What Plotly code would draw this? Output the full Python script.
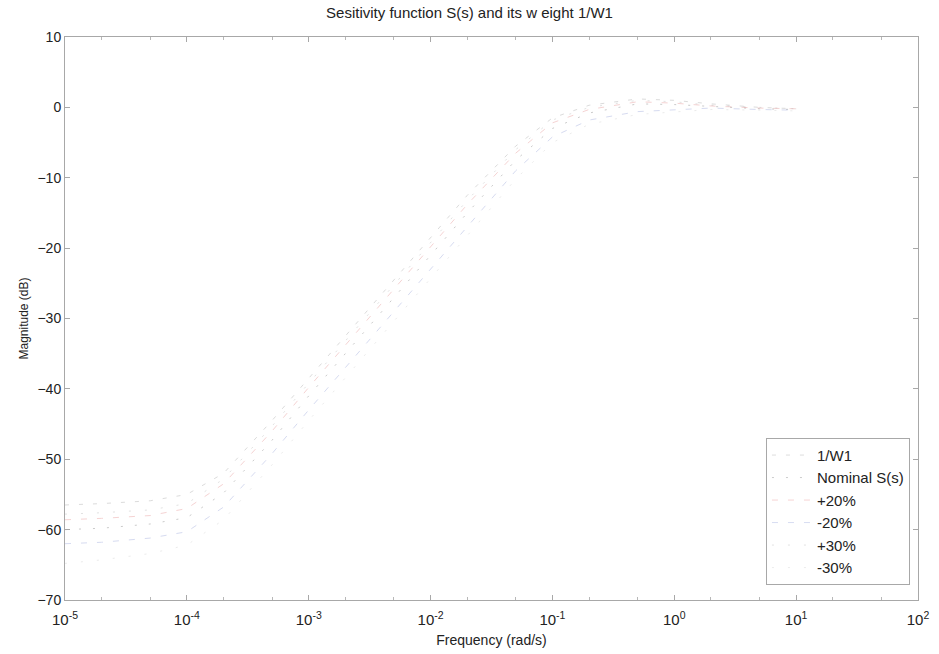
import plotly.graph_objects as go

freq = [1e-5, 2e-5, 5e-5, 1e-4, 2e-4, 5e-4, 1e-3, 2e-3, 5e-3, 1e-2,
        2e-2, 5e-2, 0.1, 0.2, 0.5, 1, 2, 5, 10]

inv_w1 = [-56.5, -56.3, -55.9, -55.0, -52.0, -44.5, -38.5, -32.5, -24.5, -18.5,
          -12.5, -5.5, -1.5, 0.3, 1.2, 1.0, 0.5, 0.0, -0.2]
nominal = [-60.0, -59.8, -59.2, -58.3, -54.8, -47.3, -41.0, -35.0, -27.0, -21.0,
           -15.0, -7.5, -3.0, -0.8, 0.5, 0.4, 0.1, -0.2, -0.3]
plus20 = [-58.6, -58.4, -58.0, -57.0, -53.5, -46.0, -39.8, -33.8, -25.8, -19.8,
          -13.8, -6.5, -2.2, -0.3, 0.8, 0.6, 0.2, -0.1, -0.2]
minus20 = [-62.0, -61.8, -61.2, -60.3, -56.8, -49.2, -43.0, -37.0, -29.0, -23.0,
           -17.0, -9.0, -4.2, -1.8, -0.6, -0.3, -0.1, -0.3, -0.4]
plus30 = [-57.8, -57.6, -57.2, -56.3, -52.8, -45.3, -39.2, -33.2, -25.2, -19.2,
          -13.2, -6.0, -1.8, 0.0, 1.0, 0.8, 0.3, 0.0, -0.2]
minus30 = [-64.8, -64.3, -63.4, -62.2, -58.6, -50.8, -44.5, -38.4, -30.3, -24.2,
           -18.2, -10.2, -5.0, -2.4, -1.0, -0.6, -0.3, -0.4, -0.5]

x_tickvals = [1e-5, 1e-4, 1e-3, 1e-2, 1e-1, 1e0, 1e1, 1e2]
x_ticktext = ["10<sup>-5</sup>", "10<sup>-4</sup>", "10<sup>-3</sup>", "10<sup>-2</sup>",
              "10<sup>-1</sup>", "10<sup>0</sup>", "10<sup>1</sup>", "10<sup>2</sup>"]

series = [
    ("1/W1", inv_w1, "#8c8c8c", "4px,10px"),
    ("Nominal S(s)", nominal, "#555555", "2px,12px"),
    ("+20%", plus20, "#e07070", "6px,10px"),
    ("-20%", minus20, "#7a8ad0", "6px,10px"),
    ("+30%", plus30, "#a0a0a0", "2px,14px"),
    ("-30%", minus30, "#c0c0c0", "2px,14px"),
]

fig = go.Figure()
for name, vals, col, dash in series:
    fig.add_trace(go.Scatter(x=freq, y=vals, mode="lines", name=name,
                             line=dict(color=col, width=1, dash=dash),
                             opacity=0.3))

font_fam = "Arial, Liberation Sans"
axis_common = dict(showline=True, linecolor="#a8a8a8", linewidth=1, mirror="ticks",
                   ticks="inside", ticklen=5, tickcolor="#a8a8a8",
                   showgrid=False, zeroline=False, automargin=False)

fig.update_layout(
    width=939, height=654,
    margin=dict(l=65, r=21, t=37, b=54),
    paper_bgcolor="white", plot_bgcolor="white",
    title=dict(text="Sesitivity function S(s) and its w eight 1/W1",
               x=0.5, xanchor="center", y=0.988, yanchor="top",
               font=dict(family=font_fam, size=15, color="#222222")),
    xaxis=dict(type="log", range=[-5, 2], tickmode="array",
               tickvals=x_tickvals, ticktext=x_ticktext, ticklabelstandoff=6,
               tickfont=dict(family=font_fam, size=15, color="#222222"),
               minor=dict(ticks="inside", ticklen=3, tickcolor="#b8b8b8"),
               title=dict(text="Frequency (rad/s)", standoff=8,
                          font=dict(family=font_fam, size=14, color="#222222")),
               **axis_common),
    yaxis=dict(range=[-70, 10], dtick=10,
               tickfont=dict(family=font_fam, size=14, color="#222222"),
               title=dict(text="Magnitude (dB)", standoff=6,
                          font=dict(family=font_fam, size=12, color="#222222")),
               **axis_common),
    legend=dict(x=0.9906, xanchor="right", y=0.027, yanchor="bottom",
                bgcolor="white", bordercolor="#a8a8a8", borderwidth=1,
                font=dict(family=font_fam, size=15, color="#222222"),
                tracegroupgap=0, itemwidth=40),
    showlegend=True,
)

fig.write_html("out.html")
